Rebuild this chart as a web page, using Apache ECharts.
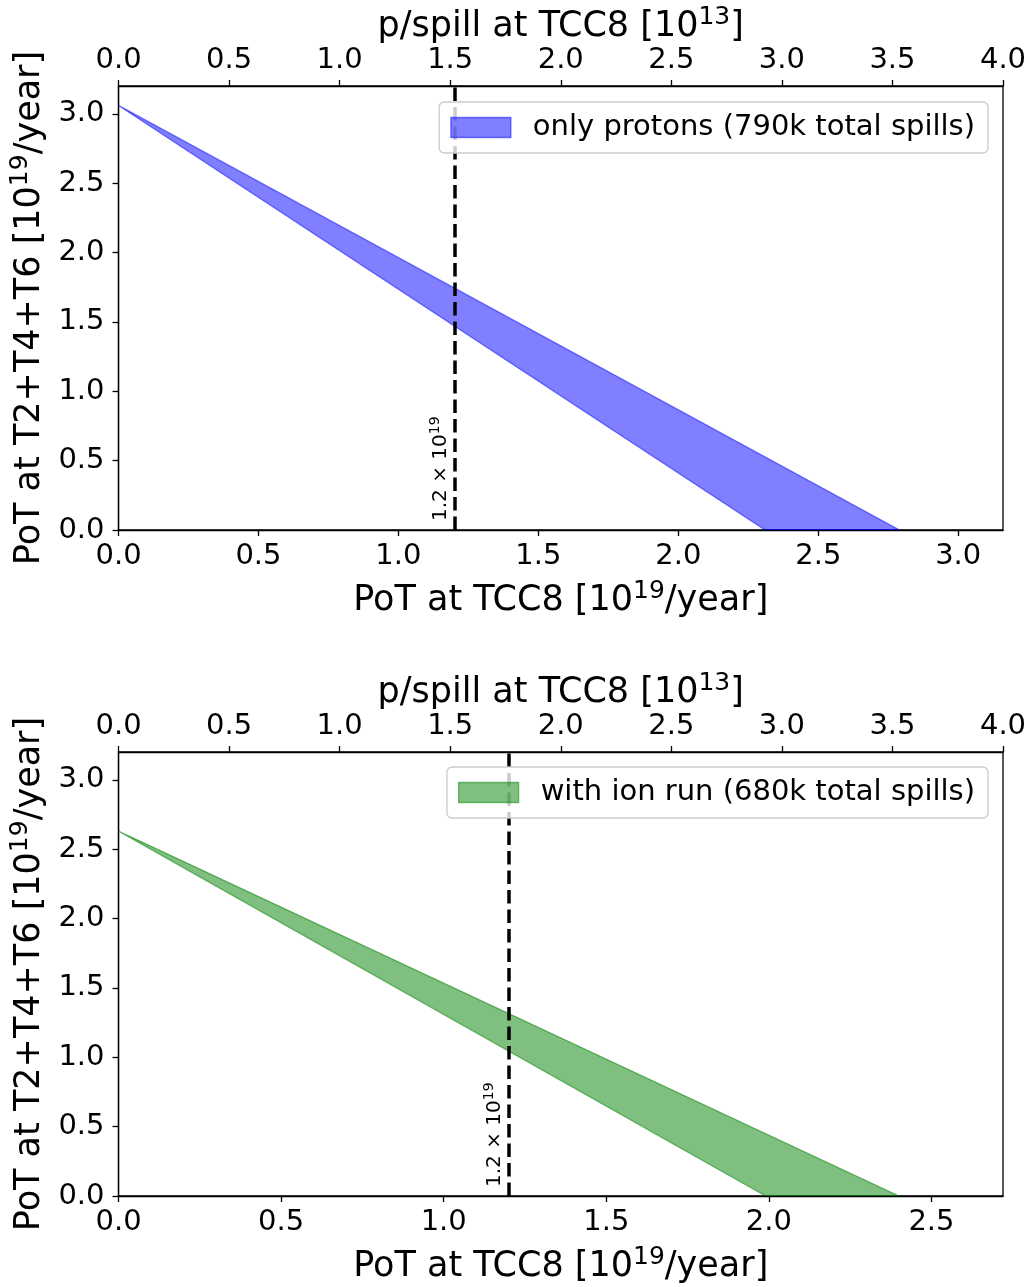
<!DOCTYPE html>
<html><head><meta charset="utf-8">
<script src="https://cdn.jsdelivr.net/npm/echarts@6/dist/echarts.min.js"></script>
<style>html,body{margin:0;padding:0;background:#fff}#c{width:1030px;height:1287px}</style>
</head><body><div id="c"></div>
<script>
// ---------- data ----------
const pspillTicks = [0, 0.5, 1.0, 1.5, 2.0, 2.5, 3.0, 3.5, 4.0];
const protonsPotTicks = [0, 0.5, 1.0, 1.5, 2.0, 2.5, 3.0];
const ionPotTicks = [0, 0.5, 1.0, 1.5, 2.0, 2.5];
const yTicks = [0, 0.5, 1.0, 1.5, 2.0, 2.5, 3.0];
const pspillRange = [0, 4.0];
const yRange = [0, 3.2];
const protonsPotRange = [0, 3.16];   // 790k spills x 4.0e13 p/spill
const ionPotRange = [0, 2.72];       // 680k spills x 4.0e13 p/spill
const protonsUpper = [[0, 3.06], [2.79, 0]];
const protonsLower = [[0, 3.06], [2.31, 0]];
const ionUpper = [[0, 2.63], [2.40, 0]];
const ionLower = [[0, 2.63], [1.99, 0]];
const refLineX = 1.2;
const legendNames = ['only protons (790k total spills)', 'with ion run (680k total spills)'];

// ---------- styling ----------
const FONT = 'DejaVu Sans';
const TICK_FS = 29;
const NAME_FS = 35;
const supRich = (fs) => ({
  t: {fontSize: fs, lineHeight: Math.round(fs * 1.25), fontFamily: FONT, color: '#000'},
  s: {fontSize: Math.round(fs * 0.7), lineHeight: Math.round(fs * 0.7), fontFamily: FONT, color: '#000', verticalAlign: 'top'}
});
const fmt = v => v.toFixed(1);

const gridsPx = [
  {left: 116, top: 86, width: 887, height: 444},
  {left: 116, top: 752, width: 887, height: 444}
];

function axisCommon() {
  return {
    type: 'value',
    axisLine: {show: true, onZero: false, lineStyle: {color: '#000', width: 1.3}},
    axisTick: {show: true, length: 6, lineStyle: {color: '#000', width: 1.3}},
    splitLine: {show: false},
    nameTextStyle: {rich: supRich(NAME_FS), fontSize: NAME_FS, fontFamily: FONT, color: '#000'},
  };
}

function xAxisBottom(gi, range, ticks) {
  const a = axisCommon();
  return Object.assign(a, {
    gridIndex: gi, position: 'bottom', min: range[0], max: range[1], interval: 0.5,
    name: '{t|PoT at TCC8 [10}{s|19}{t|/year]}', nameLocation: 'middle', nameGap: 49,
    axisTick: Object.assign(a.axisTick, {customValues: ticks}),
    axisLabel: {customValues: ticks, margin: 12, fontSize: TICK_FS, fontFamily: FONT, color: '#000', formatter: fmt}
  });
}
function xAxisTop(gi, range, ticks) {
  const a = axisCommon();
  return Object.assign(a, {
    gridIndex: gi, position: 'top', min: range[0], max: range[1], interval: 0.5,
    name: '{t|p/spill at TCC8 [10}{s|13}{t|]}', nameLocation: 'middle', nameGap: 37,
    axisTick: Object.assign(a.axisTick, {customValues: ticks}),
    axisLabel: {customValues: ticks, margin: 11, fontSize: TICK_FS, fontFamily: FONT, color: '#000', formatter: fmt}
  });
}
function yAxisLeft(gi) {
  const a = axisCommon();
  return Object.assign(a, {
    gridIndex: gi, position: 'left', min: yRange[0], max: yRange[1], interval: 0.5,
    name: '{t|PoT at T2+T4+T6 [10}{s|19}{t|/year]}', nameLocation: 'middle', nameGap: 60,
    axisTick: Object.assign(a.axisTick, {customValues: yTicks}),
    axisLabel: {customValues: yTicks, margin: 14, fontSize: TICK_FS, fontFamily: FONT, color: '#000', formatter: fmt}
  });
}

function band(name, gi, upper, lower, fill, edge) {
  return {
    type: 'custom', name: name, xAxisIndex: gi * 2, yAxisIndex: gi, clip: true,
    itemStyle: {color: fill},
    data: [[0, 0]],
    z: 2,
    renderItem: function (params, api) {
      const pts = upper.map(p => api.coord(p))
        .concat(lower.slice().reverse().map(p => api.coord(p)));
      return {type: 'polygon', shape: {points: pts},
        style: {fill: fill, stroke: edge, lineWidth: 1.3}};
    }
  };
}

function refLine(gi) {
  return {
    type: 'line', xAxisIndex: gi * 2, yAxisIndex: gi, data: [], z: 3,
    markLine: {
      silent: true, animation: false, symbol: ['none', 'none'],
      lineStyle: {color: '#000', width: 3.5, type: [13.5, 6]},
      label: {
        show: true, position: 'insideStartTop', distance: [9, 1],
        formatter: '{t|' + refLineX.toFixed(1) + ' × 10}{s|19}',
        rich: supRich(20)
      },
      data: [[{coord: [refLineX, yRange[0]]}, {coord: [refLineX, yRange[1]]}]]
    }
  };
}

function legend(gi, top, name, fill, edge) {
  return {
    show: true, right: 42, top: top, orient: 'horizontal',
    backgroundColor: 'rgba(255,255,255,0.8)', borderColor: '#cccccc', borderWidth: 1.3, borderRadius: 5,
    padding: [11, 13, 11, 11], itemWidth: 60, itemHeight: 20, z: 10,
    textStyle: {fontSize: TICK_FS, lineHeight: 29, fontFamily: FONT, color: '#000', padding: [0, 0, 0, 17]},
    data: [{name: name, icon: 'rect', itemStyle: {color: fill, borderColor: edge, borderWidth: 1.3}}]
  };
}

const blueFill = 'rgba(0,0,255,0.5)';
const greenFill = 'rgba(0,128,0,0.5)';

const chart = echarts.init(document.getElementById('c'), null, {renderer: 'canvas'});
chart.setOption({
  animation: false,
  backgroundColor: '#fff',
  grid: gridsPx.map(g => Object.assign({show: true, borderColor: '#000', borderWidth: 1.3, backgroundColor: 'transparent'}, g)),
  xAxis: [
    xAxisBottom(0, protonsPotRange, protonsPotTicks),
    xAxisTop(0, pspillRange, pspillTicks),
    xAxisBottom(1, ionPotRange, ionPotTicks),
    xAxisTop(1, pspillRange, pspillTicks)
  ],
  yAxis: [yAxisLeft(0), yAxisLeft(1)],
  legend: [
    legend(0, 102, legendNames[0], blueFill, blueFill),
    legend(1, 767, legendNames[1], greenFill, greenFill)
  ],
  series: [
    band(legendNames[0], 0, protonsUpper, protonsLower, blueFill, blueFill),
    band(legendNames[1], 1, ionUpper, ionLower, greenFill, greenFill),
    refLine(0),
    refLine(1)
  ]
});
</script></body></html>
